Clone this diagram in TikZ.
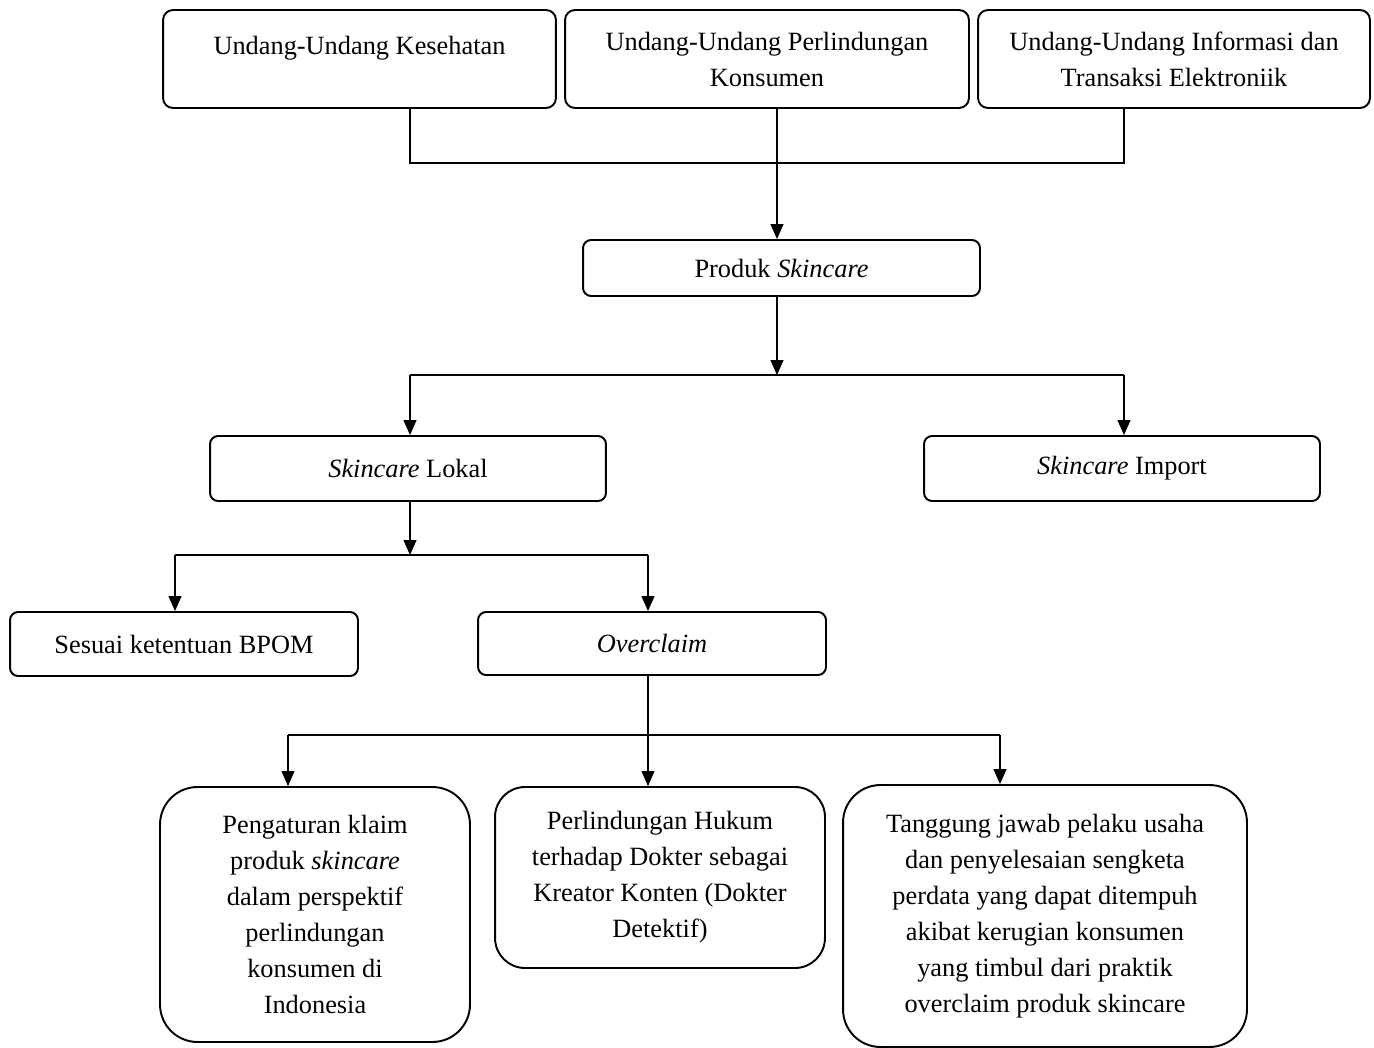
\documentclass[tikz,border=0pt]{standalone}
\usepackage{fontspec}
\setmainfont{Liberation Serif}
\usetikzlibrary{calc}
\usetikzlibrary{arrows.meta}
\usetikzlibrary{positioning}

\begin{document}
\begin{tikzpicture}[x=0.02cm,y=-0.02cm,
  box/.style={draw,line width=1.1pt,rounded corners=0.2cm,inner sep=0pt,align=center,font=\fontsize{15}{20.5}\selectfont},
  bigbox/.style={box,rounded corners=0.75cm},
  link/.style={line width=0.7pt},
  arr/.style={link,-{Triangle[width=0.26cm,length=0.3cm]}}]
\useasboundingbox (0,0) rectangle (1374,1048);

\node[box,anchor=center,minimum width=7.86cm,minimum height=1.96cm,text depth=15.5pt] (UU1) at (359.5,59) {Undang-Undang Kesehatan};
\node[box,anchor=center,minimum width=8.08cm,minimum height=1.96cm] (UU2) at (767,59) {Undang-Undang Perlindungan\\Konsumen};
\node[box,anchor=center,minimum width=7.84cm,minimum height=1.96cm] (UU3) at (1174,59) {Undang-Undang Informasi dan\\Transaksi Elektroniik};

\node[box,anchor=center,rounded corners=0.16cm,minimum width=7.94cm,minimum height=1.12cm] (Produk) at (781.5,268) {Produk \textit{Skincare}};

\node[box,anchor=center,rounded corners=0.16cm,minimum width=7.92cm,minimum height=1.3cm] (Lokal) at (408,468.5) {\textit{Skincare} Lokal};
\node[box,anchor=center,rounded corners=0.16cm,minimum width=7.92cm,minimum height=1.3cm] (Import) at (1122,468.5) {\textit{Skincare} Import};

\node[box,anchor=center,rounded corners=0.16cm,minimum width=6.96cm,minimum height=1.28cm] (Sesuai) at (184,644) {Sesuai ketentuan BPOM};
\node[box,anchor=center,rounded corners=0.16cm,minimum width=6.96cm,minimum height=1.26cm] (Overclaim) at (652,643.5) {\textit{Overclaim}};

\node[bigbox,anchor=center,minimum width=6.2cm,minimum height=5.1cm] (Klaim) at (315,914.5) {Pengaturan klaim\\produk \textit{skincare}\\dalam perspektif\\perlindungan\\konsumen di\\Indonesia};
\node[bigbox,anchor=center,rounded corners=0.6cm,minimum width=6.6cm,minimum height=3.62cm] (Dokter) at (660,877.5) {Perlindungan Hukum\\terhadap Dokter sebagai\\Kreator Konten (Dokter\\Detektif)};
\node[bigbox,anchor=center,minimum width=8.08cm,minimum height=5.24cm] (Tanggung) at (1045,916) {Tanggung jawab pelaku usaha\\dan penyelesaian sengketa\\perdata yang dapat ditempuh\\akibat kerugian konsumen\\yang timbul dari praktik\\overclaim produk skincare};

\coordinate (L1) at (410,163);
\coordinate (J1) at (777,163);
\coordinate (R1) at (1124,163);
\coordinate (L2) at (410,375);
\coordinate (J2) at (777,375);
\coordinate (R2) at (1124,375);
\coordinate (L3) at (175,555);
\coordinate (J3) at (410,555);
\coordinate (R3) at (648,555);
\coordinate (L4) at (288,735);
\coordinate (J4) at (648,735);
\coordinate (R4) at (1000,735);

\draw[link] (UU1.south -| L1) -- (L1) -- (R1) -- (UU3.south -| R1);
\draw[arr] (UU2.south -| J1) -- (J1 |- Produk.north);

\draw[arr] (Produk.south -| J2) -- (J2);
\draw[link] (L2) -- (R2);
\draw[arr] (L2) -- (L2 |- Lokal.north);
\draw[arr] (R2) -- (R2 |- Import.north);

\draw[arr] (Lokal.south -| J3) -- (J3);
\draw[link] (L3) -- (R3);
\draw[arr] (L3) -- (L3 |- Sesuai.north);
\draw[arr] (R3) -- (R3 |- Overclaim.north);

\draw[link] (Overclaim.south -| J4) -- (J4);
\draw[link] (L4) -- (R4);
\draw[arr] (L4) -- (L4 |- Klaim.north);
\draw[arr] (J4) -- (J4 |- Dokter.north);
\draw[arr] (R4) -- (R4 |- Tanggung.north);

\end{tikzpicture}
\end{document}
